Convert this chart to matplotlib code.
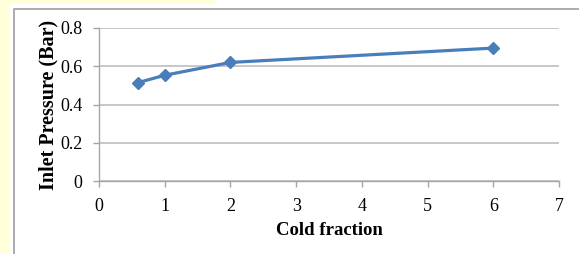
import matplotlib
matplotlib.use("Agg")
import matplotlib.pyplot as plt
from matplotlib.patches import Rectangle

cold_fraction = [0.6, 1, 2, 6]
inlet_pressure = [0.515, 0.553, 0.62, 0.695]
xticks = [0, 1, 2, 3, 4, 5, 6, 7]
yticks = [0, 0.2, 0.4, 0.6, 0.8]
ytick_labels = ["0", "0.2", "0.4", "0.6", "0.8"]

plt.rcParams['font.family'] = ['Liberation Serif', 'DejaVu Serif']

W, H = 579, 254
fig = plt.figure(figsize=(W / 100, H / 100), dpi=100)
fig.patch.set_facecolor("white")

# yellow page background peeking out at left/top
yellow = "#FFFFD9"
fig.patches.append(Rectangle((0, 0), 10 / W, 1, transform=fig.transFigure,
                             facecolor=yellow, edgecolor="none", zorder=0))
fig.patches.append(Rectangle((0, 1 - 4 / H), 215 / W, 4 / H, transform=fig.transFigure,
                             facecolor=yellow, edgecolor="none", zorder=0))
# chart frame
fig.patches.append(Rectangle((13.5 / W, -0.1), 1, 1 + 0.1 - 9.5 / H, transform=fig.transFigure,
                             facecolor="none", edgecolor="#A6A6A6", lw=1.3, zorder=1))

ax = fig.add_axes([99 / W, (H - 181) / H, (559 - 99) / W, (181 - 28) / H])
ax.set_facecolor("none")
ax.plot(cold_fraction, inlet_pressure, color="#4A7EBB", lw=2.3,
        marker="D", markersize=6.5, clip_on=False, zorder=3)

ax.set_xlim(0, 7)
ax.set_ylim(0, 0.8)
ax.set_xticks(xticks)
ax.set_yticks(yticks)
ax.set_yticklabels(ytick_labels)
ax.yaxis.grid(True, color="#BEBEBE", lw=1.2)
ax.set_axisbelow(True)

for s in ["top", "right"]:
    ax.spines[s].set_visible(False)
for s in ["left", "bottom"]:
    ax.spines[s].set_color("#A6A6A6")
    ax.spines[s].set_linewidth(1.0)
ax.tick_params(axis="both", colors="#A6A6A6", length=4.3, width=1.0,
               labelsize=13, labelcolor="black")
ax.tick_params(axis="x", pad=8)
ax.tick_params(axis="y", pad=7.5)

ax.set_xlabel("Cold fraction", fontsize=13.5, fontweight="bold", labelpad=5)
ax.set_ylabel("Inlet Pressure (Bar)", fontsize=14.5, fontweight="bold", labelpad=1)

fig.savefig("out.png", dpi=100)
